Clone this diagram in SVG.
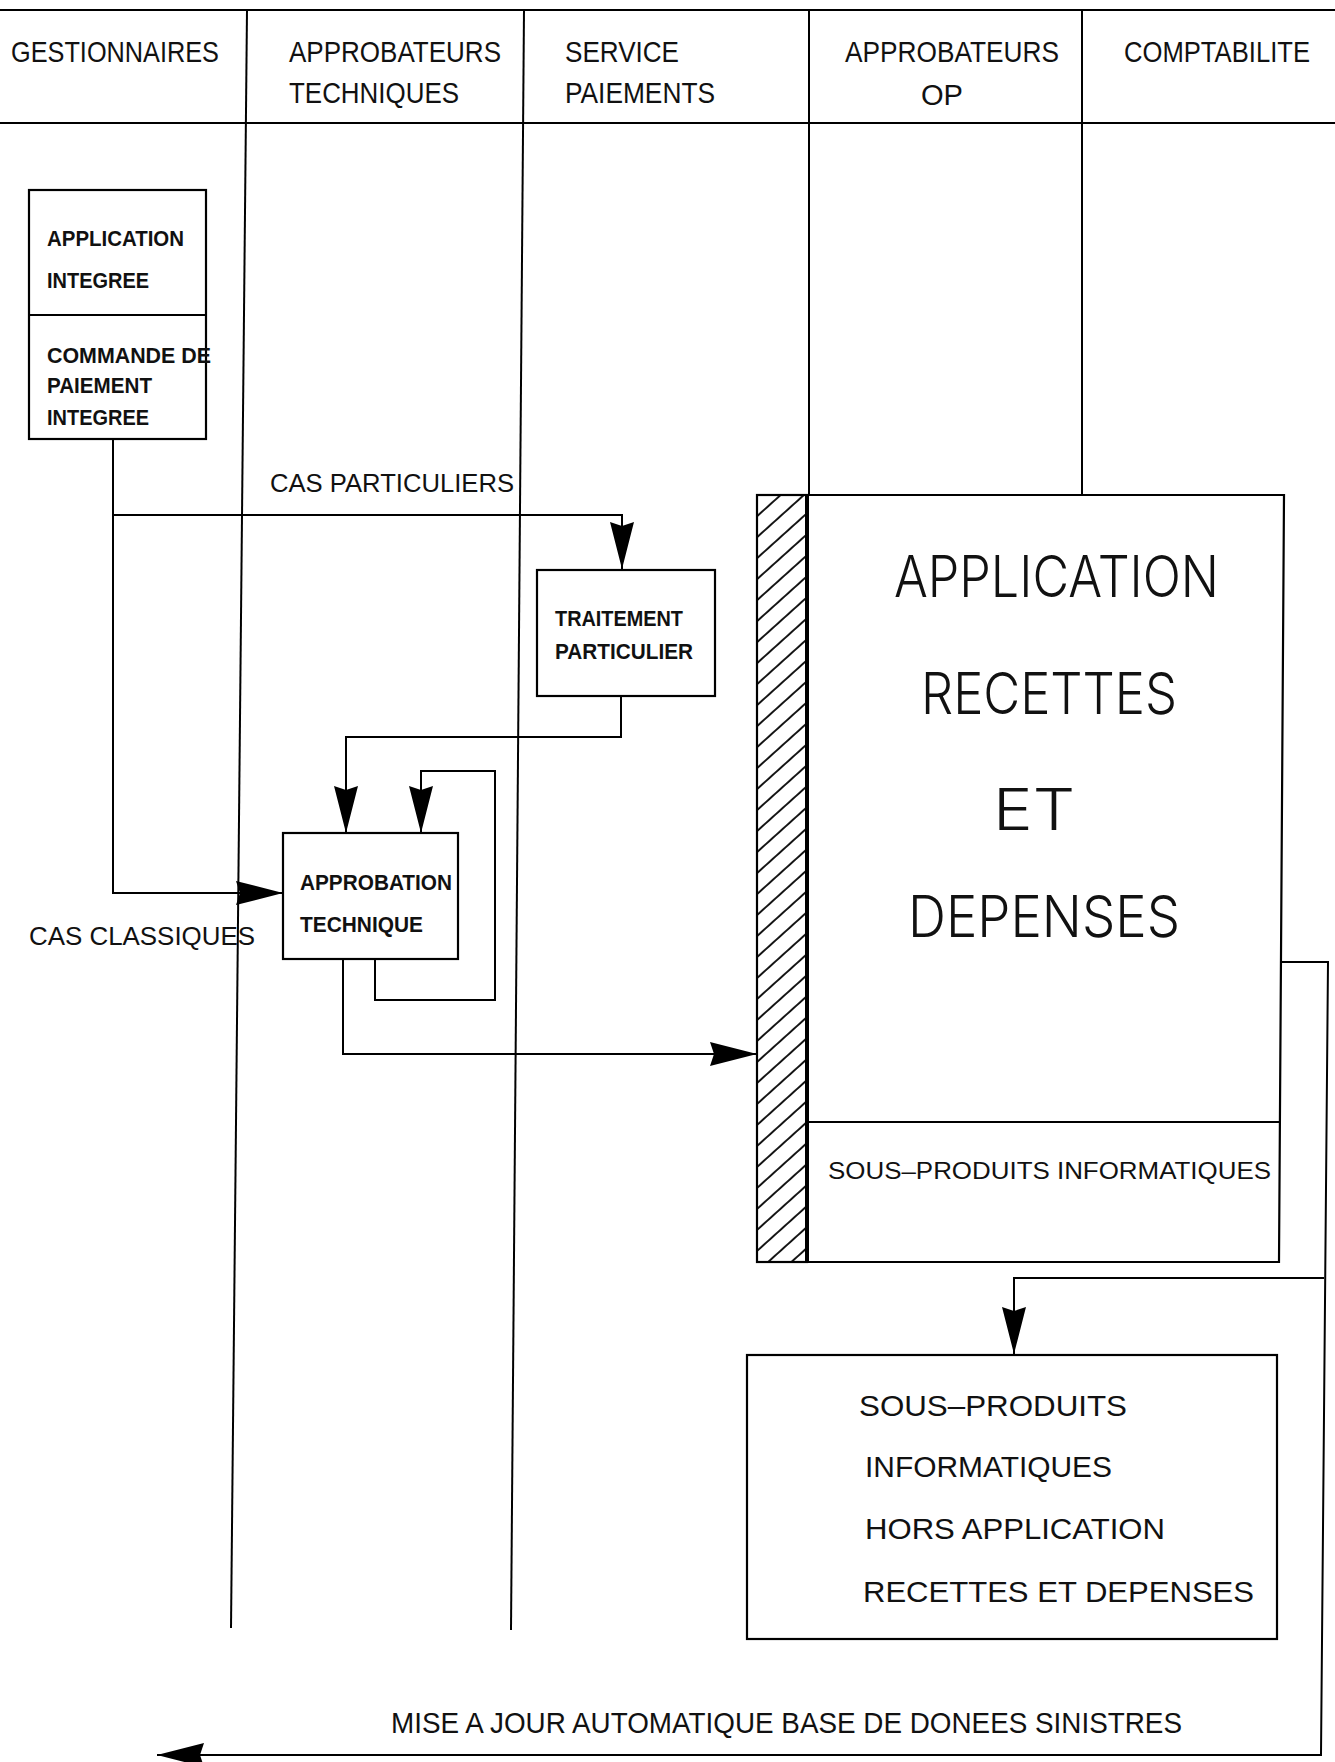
<svg xmlns="http://www.w3.org/2000/svg" width="1335" height="1762" viewBox="0 0 1335 1762">
  <style>
    .ln { stroke: #000; stroke-width: 2; fill: none; }
    .bx { fill: #fff; stroke: #000; stroke-width: 2.2; }
    .t { font-family: "Liberation Sans", Arial, sans-serif; fill: #111; }
    .hd { font-size: 30px; }
    .sm { font-size: 22px; font-weight: bold; }
    .md { font-size: 25px; }
    .big { font-family: Inter, "Liberation Sans", sans-serif; font-size: 58px; font-weight: 300; }
    .lb { font-size: 30px; }
    .sp { font-size: 24px; }
  </style>
  <defs>
    <marker id="arr" viewBox="0 0 47 24" refX="47" refY="12" markerWidth="47" markerHeight="24" markerUnits="userSpaceOnUse" orient="auto">
      <path d="M0,0 L47,12 L0,24 L4,12 Z" fill="#000"/>
    </marker>
    <pattern id="hatch" patternUnits="userSpaceOnUse" width="20" height="15.6" patternTransform="rotate(-42)">
      <line x1="0" y1="1" x2="20" y2="1" stroke="#000" stroke-width="1.8"/>
    </pattern>
  </defs>

  <rect width="1335" height="1762" fill="#fff"/>

  <!-- swimlane frame -->
  <g id="lanes" class="ln">
    <line x1="0" y1="10" x2="1335" y2="10"/>
    <line x1="0" y1="123" x2="1335" y2="123"/>
    <line x1="247" y1="10" x2="231" y2="1628"/>
    <line x1="524" y1="10" x2="511" y2="1630"/>
    <line x1="809" y1="10" x2="809" y2="495"/>
    <line x1="1082" y1="10" x2="1082" y2="495"/>
  </g>

  <!-- lane headers -->
  <g id="headers" class="t hd">
    <text x="11" y="62" textLength="208" lengthAdjust="spacingAndGlyphs">GESTIONNAIRES</text>
    <text x="289" y="62" textLength="212" lengthAdjust="spacingAndGlyphs">APPROBATEURS</text>
    <text x="289" y="103" textLength="170" lengthAdjust="spacingAndGlyphs">TECHNIQUES</text>
    <text x="565" y="62" textLength="114" lengthAdjust="spacingAndGlyphs">SERVICE</text>
    <text x="565" y="103" textLength="150" lengthAdjust="spacingAndGlyphs">PAIEMENTS</text>
    <text x="845" y="62" textLength="214" lengthAdjust="spacingAndGlyphs">APPROBATEURS</text>
    <text x="921" y="105" textLength="42" lengthAdjust="spacingAndGlyphs">OP</text>
    <text x="1124" y="62" textLength="186" lengthAdjust="spacingAndGlyphs">COMPTABILITE</text>
  </g>

  <!-- connectors -->
  <g id="connectors" class="ln">
    <path d="M113,439 V893 H283" marker-end="url(#arr)"/>
    <path d="M113,515 H622 V569" marker-end="url(#arr)"/>
    <path d="M621,696 V737 H346 V833" marker-end="url(#arr)"/>
    <path d="M375,959 V1000 H495 V771 H421 V833" marker-end="url(#arr)"/>
    <path d="M343,959 V1054 H757" marker-end="url(#arr)"/>
    <path d="M1282,962 H1328 L1321,1755 H157" marker-end="url(#arr)"/>
    <path d="M1324,1278 H1014 V1354" marker-end="url(#arr)"/>
  </g>

  <!-- connector labels -->
  <g id="labels" class="t md">
    <text x="270" y="492" textLength="244" lengthAdjust="spacingAndGlyphs">CAS PARTICULIERS</text>
    <text x="29" y="945" textLength="226" lengthAdjust="spacingAndGlyphs">CAS CLASSIQUES</text>
  </g>
  <text id="maj-label" class="t lb" x="391" y="1733" textLength="791" lengthAdjust="spacingAndGlyphs">MISE A JOUR AUTOMATIQUE BASE DE DONEES SINISTRES</text>

  <!-- integrated application / payment order -->
  <g id="node-application-integree">
    <rect class="bx" x="29" y="190" width="177" height="249"/>
    <line class="ln" x1="29" y1="315" x2="206" y2="315"/>
    <g class="t sm">
      <text x="47" y="246" textLength="137" lengthAdjust="spacingAndGlyphs">APPLICATION</text>
      <text x="47" y="288" textLength="102" lengthAdjust="spacingAndGlyphs">INTEGREE</text>
      <text x="47" y="363" textLength="164" lengthAdjust="spacingAndGlyphs">COMMANDE DE</text>
      <text x="47" y="393" textLength="105" lengthAdjust="spacingAndGlyphs">PAIEMENT</text>
      <text x="47" y="425" textLength="102" lengthAdjust="spacingAndGlyphs">INTEGREE</text>
    </g>
  </g>

  <!-- special processing -->
  <g id="node-traitement">
    <rect class="bx" x="537" y="570" width="178" height="126"/>
    <g class="t sm">
      <text x="555" y="626" textLength="128" lengthAdjust="spacingAndGlyphs">TRAITEMENT</text>
      <text x="555" y="659" textLength="138" lengthAdjust="spacingAndGlyphs">PARTICULIER</text>
    </g>
  </g>

  <!-- technical approval -->
  <g id="node-approbation">
    <rect class="bx" x="283" y="833" width="175" height="126"/>
    <g class="t sm">
      <text x="300" y="890" textLength="152" lengthAdjust="spacingAndGlyphs">APPROBATION</text>
      <text x="300" y="932" textLength="123" lengthAdjust="spacingAndGlyphs">TECHNIQUE</text>
    </g>
  </g>

  <!-- receipts and expenses application -->
  <g id="node-recettes-depenses">
    <rect x="757" y="495" width="50" height="767" fill="url(#hatch)" stroke="#000" stroke-width="2.2"/>
    <path d="M807,495 H1284 L1279,1262 H807 Z" fill="none" stroke="#000" stroke-width="2.2"/>
    <line x1="807" y1="495" x2="807" y2="1262" stroke="#000" stroke-width="4"/>
    <line class="ln" x1="807" y1="1122" x2="1281" y2="1122"/>
    <g class="t big">
      <text x="894" y="597" textLength="325" lengthAdjust="spacingAndGlyphs">APPLICATION</text>
      <text x="921" y="714" textLength="256" lengthAdjust="spacingAndGlyphs">RECETTES</text>
      <text x="993" y="830" textLength="82" lengthAdjust="spacingAndGlyphs">ET</text>
      <text x="908" y="937" textLength="272" lengthAdjust="spacingAndGlyphs">DEPENSES</text>
    </g>
    <text class="t sp" x="828" y="1179" textLength="443" lengthAdjust="spacingAndGlyphs">SOUS–PRODUITS INFORMATIQUES</text>
  </g>

  <!-- by-products outside the application -->
  <g id="node-sous-produits">
    <rect class="bx" x="747" y="1355" width="530" height="284"/>
    <g class="t lb">
      <text x="859" y="1416" textLength="268" lengthAdjust="spacingAndGlyphs">SOUS–PRODUITS</text>
      <text x="865" y="1477" textLength="247" lengthAdjust="spacingAndGlyphs">INFORMATIQUES</text>
      <text x="865" y="1539" textLength="300" lengthAdjust="spacingAndGlyphs">HORS APPLICATION</text>
      <text x="863" y="1602" textLength="391" lengthAdjust="spacingAndGlyphs">RECETTES ET DEPENSES</text>
    </g>
  </g>
</svg>
